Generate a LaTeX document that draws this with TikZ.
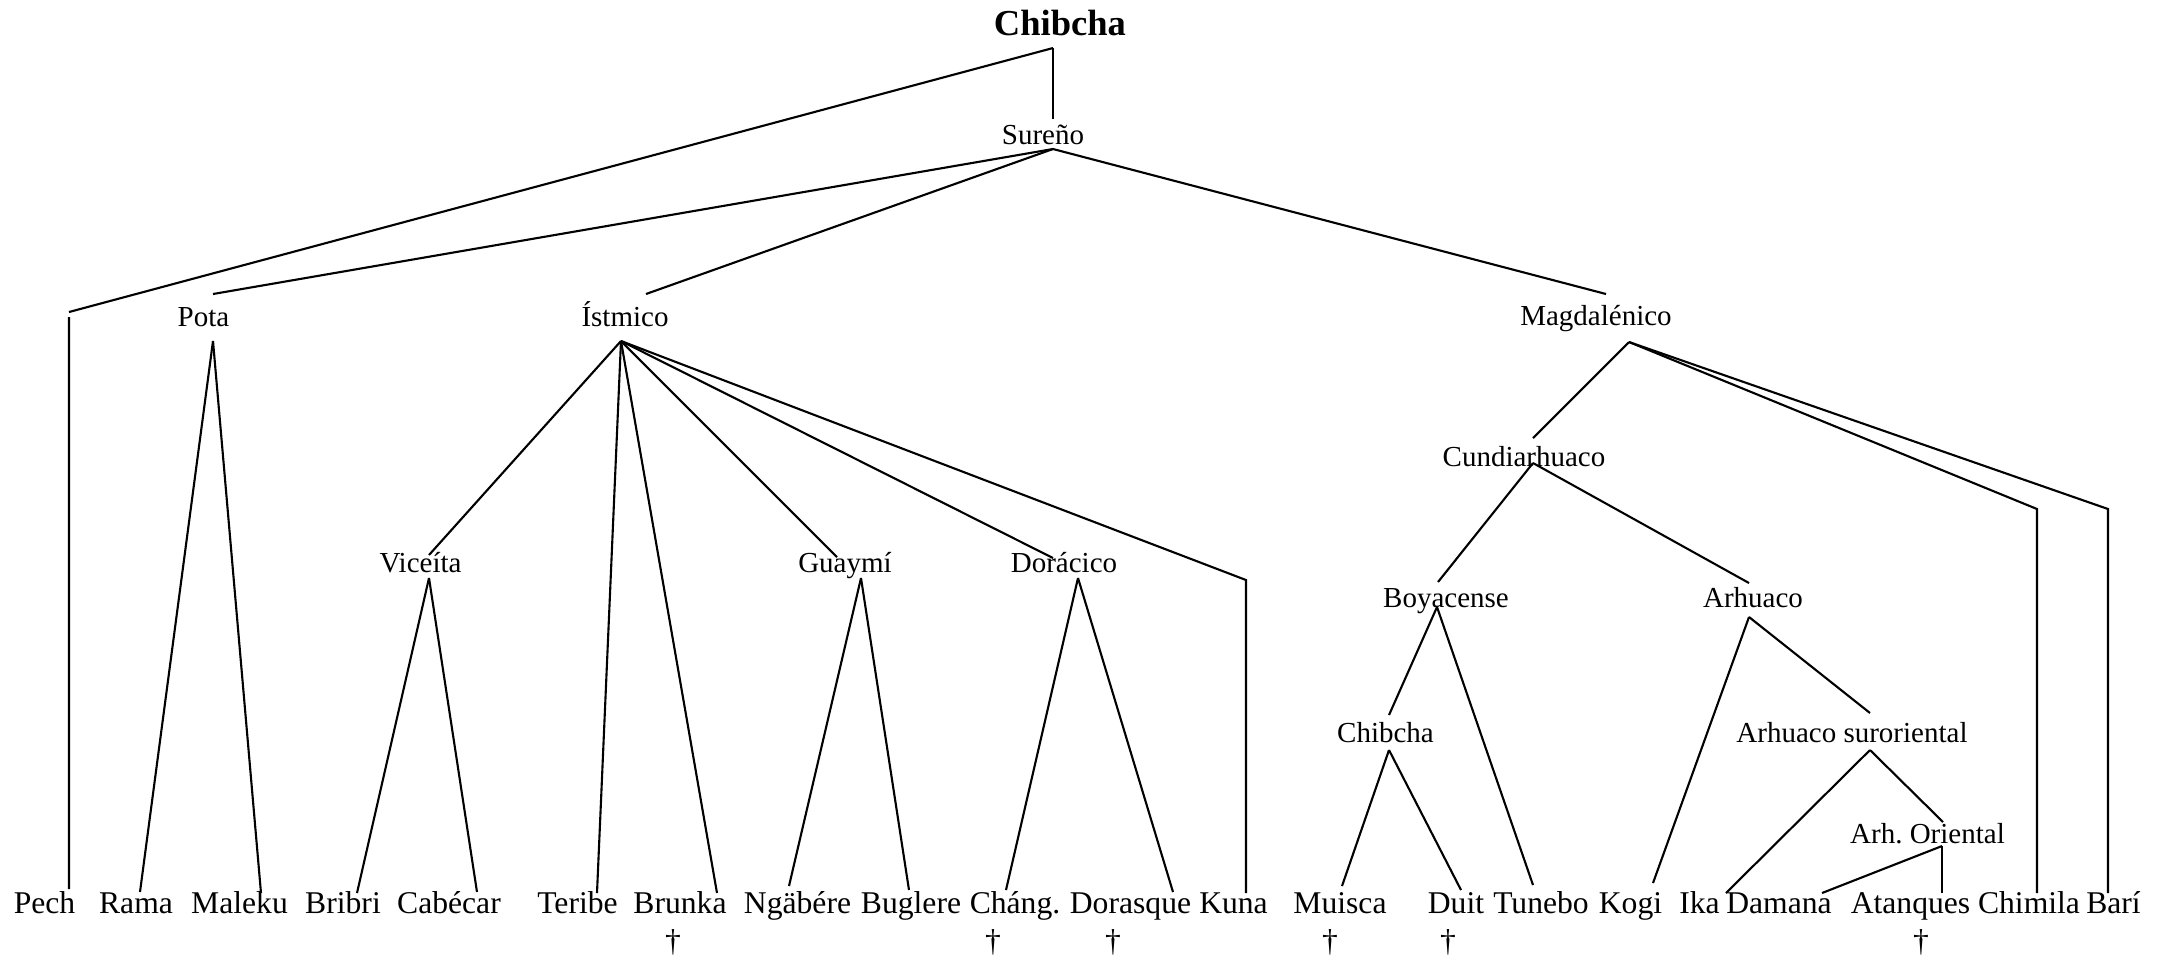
\documentclass[tikz,border=0pt]{standalone}
\usepackage{fontspec}
\setmainfont{Liberation Serif}
\tikzset{
    br/.style={line width=0.6pt, black},
    inner/.style={inner sep=0pt, anchor=base, font=\fontsize{8.25pt}{10pt}\selectfont},
    leaf/.style={inner sep=0pt, anchor=base, font=\fontsize{9pt}{11pt}\selectfont},
    root/.style={inner sep=0pt, anchor=base, font=\fontsize{10.4pt}{12pt}\selectfont\bfseries}
}
\begin{document}
\begin{tikzpicture}[x=0.1mm, y=-0.1mm]
        \useasboundingbox (0,0) rectangle (2157,959);
        % inner groups
        \node[root] (root) at (1060,35) {Chibcha};
        \node[inner] (sur) at (1043,144) {Sureño};
        \node[inner] (pota) at (203.5,326) {Pota};
        \node[inner] (ist) at (625,326) {Ístmico};
        \node[inner] (mag) at (1596,325) {Magdalénico};
        \node[inner] (vic) at (420.5,572) {Viceíta};
        \node[inner] (guay) at (845,572) {Guaymí};
        \node[inner] (dor) at (1064,572) {Dorácico};
        \node[inner] (cund) at (1524,466) {Cundiarhuaco};
        \node[inner] (boy) at (1446,607) {Boyacense};
        \node[inner] (arh) at (1753,607) {Arhuaco};
        \node[inner] (chib) at (1385.5,742) {Chibcha};
        \node[inner] (arhs) at (1852,742) {Arhuaco suroriental};
        \node[inner] (arho) at (1927.5,843) {Arh.\ Oriental};
        % languages
        \node[leaf] (pech) at (44.5,913) {Pech};
        \node[leaf] (rama) at (136,913) {Rama};
        \node[leaf] (mal) at (239.5,913) {Maleku};
        \node[leaf] (bri) at (343,913) {Bribri};
        \node[leaf] (cab) at (449,913) {Cabécar};
        \node[leaf] (ter) at (577.5,913) {Teribe};
        \node[leaf] (bru) at (680,913) {Brunka};
        \node[leaf] (nga) at (797.5,913) {Ngäbére};
        \node[leaf] (bug) at (911,913) {Buglere};
        \node[leaf] (cha) at (1015,913) {Cháng.};
        \node[leaf] (dora) at (1130.5,913) {Dorasque};
        \node[leaf] (kuna) at (1233.5,913) {Kuna};
        \node[leaf] (mui) at (1340,913) {Muisca};
        \node[leaf] (duit) at (1456,913) {Duit};
        \node[leaf] (tun) at (1541,913) {Tunebo};
        \node[leaf] (kogi) at (1630.5,913) {Kogi};
        \node[leaf] (ika) at (1699.5,913) {Ika};
        \node[leaf] (dam) at (1779,913) {Damana};
        \node[leaf] (ata) at (1910.5,913) {Atanques};
        \node[leaf] (chim) at (2029,913) {Chimila};
        \node[leaf] (bari) at (2113.5,913) {Barí};
        % extinct
        \node[leaf] (dg1) at (673,951) {†};
        \node[leaf] (dg2) at (993,951) {†};
        \node[leaf] (dg3) at (1113,951) {†};
        \node[leaf] (dg4) at (1330,951) {†};
        \node[leaf] (dg5) at (1448,951) {†};
        \node[leaf] (dg6) at (1921,951) {†};
        % bends
        \coordinate (pechc) at (69,312);
        \coordinate (kunac) at (1246,580);
        \coordinate (chimc) at (2037,509);
        \coordinate (baric) at (2108,509);
        % branches
        \draw[br] ([shift={(-7,13)}]root.base) -- (pechc);
        \draw[br] ([shift={(-7,13)}]root.base) -- ([shift={(10,-25)}]sur.base);
        \draw[br] ([shift={(0,5)}]pechc) -- ([shift={(24.5,-24)}]pech.base);
        \draw[br] ([shift={(10,5)}]sur.base) -- ([shift={(9.5,-32)}]pota.base);
        \draw[br] ([shift={(10,5)}]sur.base) -- ([shift={(21,-32)}]ist.base);
        \draw[br] ([shift={(10,5)}]sur.base) -- ([shift={(10,-31)}]mag.base);
        \draw[br] ([shift={(9.5,15)}]pota.base) -- ([shift={(4,-21)}]rama.base);
        \draw[br] ([shift={(9.5,15)}]pota.base) -- ([shift={(21.5,-20)}]mal.base);
        \draw[br] ([shift={(-4,15)}]ist.base) -- ([shift={(8.5,-17)}]vic.base);
        \draw[br] ([shift={(-4,15)}]ist.base) -- ([shift={(19.5,-20)}]ter.base);
        \draw[br] ([shift={(-4,15)}]ist.base) -- ([shift={(37,-20)}]bru.base);
        \draw[br] ([shift={(-4,15)}]ist.base) -- ([shift={(-8,-15)}]guay.base);
        \draw[br] ([shift={(-4,15)}]ist.base) -- ([shift={(-11,-14)}]dor.base);
        \draw[br] ([shift={(-4,15)}]ist.base) -- (kunac) -- ([shift={(12.5,-20)}]kuna.base);
        \draw[br] ([shift={(8.5,6)}]vic.base) -- ([shift={(14,-20)}]bri.base);
        \draw[br] ([shift={(8.5,6)}]vic.base) -- ([shift={(28,-21)}]cab.base);
        \draw[br] ([shift={(16,6)}]guay.base) -- ([shift={(-8.5,-27)}]nga.base);
        \draw[br] ([shift={(16,6)}]guay.base) -- ([shift={(-2,-23)}]bug.base);
        \draw[br] ([shift={(14,6)}]dor.base) -- ([shift={(-9,-23)}]cha.base);
        \draw[br] ([shift={(14,6)}]dor.base) -- ([shift={(42.5,-21)}]dora.base);
        \draw[br] ([shift={(33,17)}]mag.base) -- ([shift={(9,-28)}]cund.base);
        \draw[br] ([shift={(33,17)}]mag.base) -- (chimc) -- ([shift={(8,-20)}]chim.base);
        \draw[br] ([shift={(33,17)}]mag.base) -- (baric) -- ([shift={(-5.5,-20)}]bari.base);
        \draw[br] ([shift={(9,-3)}]cund.base) -- ([shift={(-8,-25)}]boy.base);
        \draw[br] ([shift={(9,-3)}]cund.base) -- ([shift={(-4,-24)}]arh.base);
        \draw[br] ([shift={(-9,0)}]boy.base) -- ([shift={(3.5,-27)}]chib.base);
        \draw[br] ([shift={(-9,0)}]boy.base) -- ([shift={(-8,-28)}]tun.base);
        \draw[br] ([shift={(3.5,8)}]chib.base) -- ([shift={(2,-27)}]mui.base);
        \draw[br] ([shift={(3.5,8)}]chib.base) -- ([shift={(5,-23)}]duit.base);
        \draw[br] ([shift={(-4,10)}]arh.base) -- ([shift={(22.5,-30)}]kogi.base);
        \draw[br] ([shift={(-4,10)}]arh.base) -- ([shift={(18,-29)}]arhs.base);
        \draw[br] ([shift={(18,8)}]arhs.base) -- ([shift={(26.5,-20)}]ika.base);
        \draw[br] ([shift={(18,8)}]arhs.base) -- ([shift={(15.5,-21)}]arho.base);
        \draw[br] ([shift={(14.5,3)}]arho.base) -- ([shift={(43,-20)}]dam.base);
        \draw[br] ([shift={(14.5,3)}]arho.base) -- ([shift={(31.5,-20)}]ata.base);
    \end{tikzpicture}
\end{document}
